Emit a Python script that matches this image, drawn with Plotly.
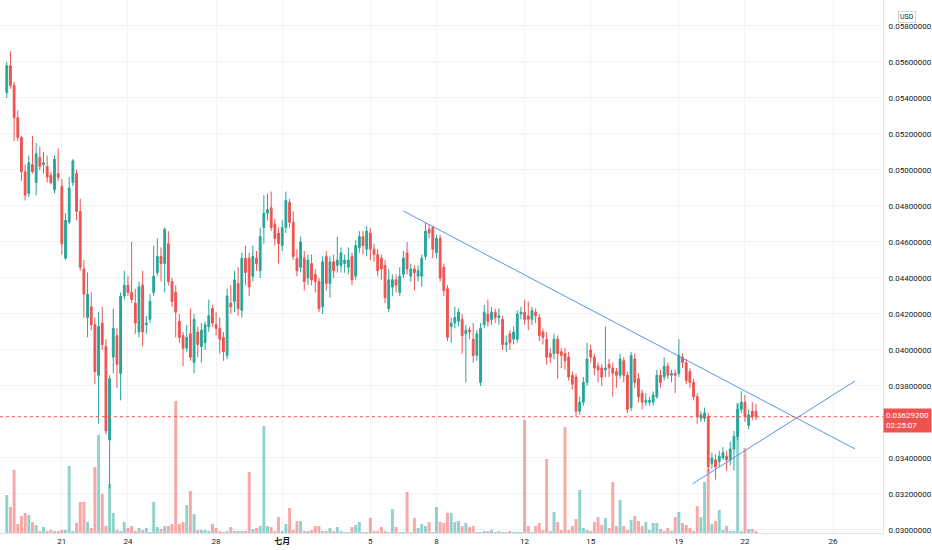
import pandas as pd
import plotly.graph_objects as go

# 4h candles, prices in thousandths of a USD (54.3 -> 0.0543)
opens = [
    54.3, 55.8, 54.7, 52.9, 51.8, 49.9, 48.7, 50.3, 49.3, 50.7,
    50.3, 50.2, 49.7, 48.9, 49.8, 49.1, 45.1, 47.1, 49.3, 49.8,
    47.7, 44.5, 41.8, 42.4, 41.4, 38.6, 41.5, 40.2, 35.0, 39.6,
    40.8, 38.7, 43.0, 43.6, 43.2, 42.6, 41.0, 43.6, 41.4, 41.7,
    43.2, 44.3, 45.2, 44.8, 45.9, 43.8, 43.2, 41.6, 40.8, 40.1,
    40.9, 39.3, 41.0, 40.2, 40.4, 41.3, 42.3, 41.4, 41.2, 40.7,
    39.7, 42.6, 42.7, 43.7, 42.2, 45.1, 45.1, 44.1, 45.1, 44.4,
    46.8, 47.6, 47.9, 47.0, 46.5, 45.8, 46.8, 48.2, 47.1, 45.1,
    44.6, 45.1, 44.0, 44.8, 44.2, 43.8, 42.4, 45.2, 43.7, 44.9,
    44.7, 44.7, 44.8, 44.6, 45.2, 44.1, 45.7, 46.3, 45.6, 46.5,
    45.6, 45.3, 45.1, 44.7, 42.3, 43.5, 43.9, 43.2, 44.2, 45.4,
    44.1, 44.5, 44.1, 44.1, 45.2, 46.7, 46.8, 45.4, 46.2, 44.6,
    43.4, 41.3, 41.5, 41.6, 41.7, 40.9, 41.1, 40.6, 39.7, 38.2,
    41.4, 42.0, 41.7, 42.1, 41.8, 41.7, 40.3, 40.9, 40.6, 40.6,
    42.0, 42.1, 41.9, 41.7, 42.1, 41.8, 41.0, 40.6, 39.8, 39.8,
    40.6, 39.9, 39.8, 39.6, 38.6, 38.5, 36.6, 37.1, 38.2, 40.0,
    39.6, 39.1, 39.0, 38.9, 39.2, 39.0, 38.8, 38.6, 39.4, 38.6,
    36.8, 39.5, 38.4, 37.6, 37.1, 37.1, 37.1, 37.4, 38.6, 38.5,
    39.1, 38.6, 38.7, 38.7, 39.6, 39.3, 38.8, 38.2, 37.4, 36.2,
    36.2, 36.3, 33.7, 33.9, 33.8, 34.0, 34.1, 33.9, 34.5, 35.2,
    36.7, 37.1, 35.8, 36.6, 36.6,
]
highs = [
    56.0, 56.6, 54.9, 53.3, 51.9, 50.3, 50.8, 51.9, 51.5, 51.3,
    51.0, 50.8, 49.9, 50.8, 51.2, 49.5, 47.6, 49.6, 50.6, 50.0,
    48.4, 45.0, 44.3, 43.2, 41.8, 42.1, 42.4, 40.6, 38.6, 42.3,
    41.2, 43.2, 44.4, 44.1, 46.0, 43.4, 43.8, 44.4, 41.9, 43.1,
    45.8, 46.2, 45.7, 46.8, 46.6, 44.0, 43.6, 42.0, 41.0, 41.4,
    42.3, 42.0, 41.3, 41.5, 41.6, 42.8, 42.5, 42.1, 41.8, 41.0,
    43.4, 43.6, 44.4, 44.6, 45.4, 45.8, 45.4, 45.8, 45.5, 46.8,
    48.6, 48.7, 48.8, 47.3, 46.8, 47.2, 48.8, 48.4, 47.7, 45.6,
    46.3, 45.5, 45.3, 45.3, 44.5, 44.0, 45.2, 45.5, 45.2, 45.3,
    46.3, 45.7, 45.3, 45.7, 45.4, 46.1, 46.6, 46.6, 46.9, 46.8,
    45.9, 45.6, 45.3, 45.0, 44.5, 44.2, 44.2, 44.6, 45.5, 46.0,
    44.8, 44.7, 44.7, 45.3, 47.1, 47.0, 46.9, 46.4, 46.4, 44.8,
    43.6, 41.8, 42.4, 42.3, 42.0, 41.4, 41.3, 41.5, 41.1, 41.5,
    42.5, 42.8, 42.4, 42.3, 42.3, 41.9, 40.8, 41.1, 41.3, 42.2,
    42.4, 42.8, 42.7, 42.4, 42.3, 42.0, 41.2, 41.0, 40.1, 40.9,
    40.8, 40.1, 40.1, 39.9, 38.8, 38.7, 37.4, 38.5, 40.4, 40.3,
    39.8, 39.3, 39.2, 41.3, 39.5, 39.3, 39.0, 39.8, 39.6, 38.8,
    39.9, 39.8, 38.7, 37.8, 37.6, 37.4, 37.7, 38.9, 38.9, 39.6,
    39.3, 38.9, 38.9, 40.6, 39.8, 39.5, 39.0, 38.4, 37.6, 36.6,
    36.8, 36.5, 34.3, 34.2, 34.4, 34.6, 34.4, 34.9, 35.5, 37.0,
    37.7, 37.5, 36.7, 37.1, 37.0,
]
lows = [
    54.0, 54.5, 51.6, 51.6, 49.4, 48.3, 48.5, 49.8, 48.6, 50.0,
    49.8, 49.3, 49.2, 48.7, 49.4, 45.3, 45.0, 47.0, 49.1, 47.2,
    44.4, 41.8, 40.7, 41.1, 38.1, 35.9, 40.0, 35.3, 32.3, 38.7,
    37.9, 37.2, 42.8, 43.0, 42.6, 40.9, 40.7, 40.2, 40.9, 41.5,
    43.0, 44.1, 43.8, 43.2, 43.6, 42.4, 40.7, 40.4, 39.1, 39.9,
    39.4, 38.7, 39.6, 39.3, 40.0, 41.0, 41.3, 40.8, 39.8, 39.4,
    39.5, 42.0, 42.1, 41.9, 41.8, 43.6, 43.0, 43.8, 44.4, 44.0,
    45.9, 47.2, 46.6, 45.8, 44.8, 45.5, 46.5, 46.8, 45.0, 44.1,
    44.3, 43.3, 43.6, 43.6, 43.2, 42.1, 42.0, 43.3, 42.9, 44.0,
    44.3, 44.3, 44.3, 44.2, 43.6, 43.9, 45.4, 45.3, 45.2, 45.0,
    44.9, 44.1, 43.9, 42.6, 42.1, 43.0, 43.2, 43.0, 44.0, 44.2,
    43.8, 43.3, 43.8, 43.5, 45.0, 46.2, 45.1, 45.1, 43.8, 43.0,
    40.5, 40.4, 41.2, 41.3, 39.8, 38.2, 40.6, 39.3, 39.4, 38.0,
    41.2, 41.3, 41.4, 41.5, 41.4, 40.0, 39.9, 40.0, 40.3, 40.4,
    41.7, 41.4, 41.1, 41.4, 41.5, 40.5, 40.3, 39.2, 39.3, 39.5,
    38.4, 39.0, 38.9, 38.3, 37.8, 36.3, 36.4, 36.9, 38.0, 39.3,
    38.6, 38.2, 38.0, 38.5, 38.5, 37.4, 37.9, 38.4, 38.2, 36.5,
    36.6, 37.9, 37.1, 36.7, 36.9, 36.9, 36.9, 37.3, 37.9, 38.3,
    38.4, 38.2, 37.6, 38.5, 39.0, 38.1, 37.9, 37.2, 35.9, 36.0,
    36.0, 33.2, 33.4, 32.8, 33.5, 33.9, 33.3, 33.6, 33.3, 35.0,
    36.5, 36.0, 35.6, 36.1, 36.1,
]
closes = [
    55.8, 54.7, 52.9, 51.8, 49.9, 48.6, 50.4, 49.9, 50.9, 50.2,
    50.4, 49.6, 49.3, 50.6, 49.6, 45.9, 47.2, 49.0, 50.5, 47.7,
    44.6, 43.1, 43.1, 41.4, 38.8, 41.3, 40.3, 35.5, 38.4, 41.2,
    39.2, 43.0, 43.6, 43.2, 42.8, 41.5, 43.5, 41.0, 41.5, 42.7,
    44.1, 45.2, 44.8, 46.7, 43.8, 42.7, 42.1, 40.7, 40.1, 40.7,
    39.6, 41.7, 40.3, 41.1, 41.4, 41.9, 41.5, 41.2, 40.6, 39.9,
    43.0, 42.4, 43.9, 42.3, 45.1, 44.3, 43.5, 45.2, 44.8, 46.3,
    47.6, 47.8, 46.8, 46.2, 45.9, 46.8, 48.3, 47.1, 45.2, 44.4,
    46.0, 43.8, 45.0, 43.9, 43.8, 42.3, 44.9, 43.7, 44.9, 44.4,
    45.0, 45.4, 45.0, 45.0, 43.9, 45.8, 46.3, 45.8, 46.6, 45.6,
    45.3, 44.4, 44.5, 42.9, 43.9, 43.9, 43.6, 44.1, 45.1, 44.5,
    44.5, 44.3, 44.4, 45.1, 46.6, 46.5, 45.6, 46.2, 44.0, 43.3,
    40.7, 41.5, 41.8, 42.1, 40.8, 41.1, 41.0, 39.7, 40.9, 41.2,
    42.1, 41.6, 42.1, 41.8, 41.9, 40.3, 40.4, 40.4, 41.0, 42.0,
    42.1, 41.7, 41.7, 42.2, 41.9, 40.8, 40.7, 39.6, 39.6, 40.6,
    39.8, 39.7, 39.4, 38.5, 38.1, 36.6, 37.1, 38.2, 39.5, 39.6,
    39.0, 38.9, 38.5, 39.0, 39.0, 38.7, 38.6, 39.5, 38.6, 36.7,
    39.7, 38.2, 37.4, 37.1, 37.2, 37.2, 37.5, 38.6, 38.2, 39.1,
    38.6, 38.7, 38.6, 39.7, 39.3, 38.3, 38.2, 37.4, 36.3, 36.4,
    36.5, 33.5, 34.0, 33.5, 34.1, 34.3, 33.9, 34.5, 35.2, 36.7,
    37.1, 36.3, 36.4, 36.3, 36.292,
]
# volume per candle (relative units)
volumes = [
    38, 26, 63, 9, 17, 20, 18, 11, 8, 2, 6, 2, 3, 2, 2, 3, 3, 67, 2, 10,
    31, 31, 11, 5, 66, 98, 39, 7, 49, 20, 3, 2, 11, 5, 7, 2, 5, 3, 5, 1,
    31, 6, 4, 7, 7, 9, 132, 9, 11, 28, 42, 19, 3, 3, 3, 2, 9, 5, 2, 1,
    2, 6, 2, 2, 2, 2, 61, 4, 5, 7, 107, 7, 6, 2, 16, 2,
    9, 25, 3, 12, 12, 2, 2, 3, 7, 7, 2, 2, 5, 2, 6, 2, 1, 1, 6, 8,
    11, 1, 1, 15, 2, 2, 6, 2, 1, 24, 6, 1, 1, 41, 1, 15, 5, 9, 7, 11,
    1, 26, 11, 10, 20, 20, 11, 12, 7,
    10, 6, 7, 1, 1,
    2, 2, 3, 1, 2, 1, 1, 2, 1, 1, 1, 113, 7, 1, 7, 10, 3, 74, 2, 21,
    11, 3, 106, 3, 7, 14, 43, 5, 3, 2, 11, 16, 8, 15, 5, 51, 7, 33, 7, 3,
    13, 17, 12, 7, 11, 3, 10, 10, 4, 2, 5, 2, 16, 21, 10, 8, 5, 2, 27, 16,
    51, 64, 9, 12, 23, 3, 7, 2, 2, 130, 2, 85, 4, 4, 2,
]
last_bar = "2021-07-22 12:00"
last_price = 0.036292
countdown = "02:25:07"

tick_dates = ["2021-06-21", "2021-06-24", "2021-06-28", "2021-07-01", "2021-07-05",
              "2021-07-08", "2021-07-12", "2021-07-15", "2021-07-19", "2021-07-22",
              "2021-07-26"]
tick_text = ["21", "24", "28", "<b>七月</b>", "5", "8", "12", "15", "19", "22", "26"]
# 0.036 label sits under the last-price tag, so it is not listed
price_ticks = [0.030, 0.032, 0.034, 0.038, 0.040, 0.042, 0.044,
               0.046, 0.048, 0.050, 0.052, 0.054, 0.056, 0.058]

# drawn trend lines (time, price)
upper_line = (("2021-07-06 11:58", 0.04772), ("2021-07-26 23:56", 0.03450))
lower_line = (("2021-07-19 14:47", 0.03256), ("2021-07-26 23:56", 0.03828))

UP = "#26a69a"
DOWN = "#ef5350"
GRID = "#f0f3fa"
FONT = "Roboto, Noto Sans CJK SC, sans-serif"

times = pd.date_range(end=last_bar, periods=len(closes), freq="4h")
o = [v / 1000 for v in opens]
h = [v / 1000 for v in highs]
l = [v / 1000 for v in lows]
c = [v / 1000 for v in closes]
vol_colors = ["rgba(38,166,154,0.5)" if cc >= oo else "rgba(239,83,80,0.5)"
              for oo, cc in zip(opens, closes)]

fig = go.Figure()
fig.add_trace(go.Bar(x=times, y=volumes, marker=dict(color=vol_colors, line_width=0),
                     yaxis="y", hoverinfo="skip", showlegend=False))
fig.add_trace(go.Candlestick(
    x=times, open=o, high=h, low=l, close=c, yaxis="y2",
    increasing=dict(line=dict(color=UP, width=1), fillcolor=UP),
    decreasing=dict(line=dict(color=DOWN, width=1), fillcolor=DOWN),
    whiskerwidth=0, hoverinfo="skip", showlegend=False,
))

line_color = "#5b93e8"
shapes = []
for (x0, y0), (x1, y1) in (upper_line, lower_line):
    shapes.append(dict(type="line", xref="x", yref="y2", x0=x0, y0=y0, x1=x1, y1=y1,
                       line=dict(color=line_color, width=1)))
shapes.append(dict(type="line", xref="paper", yref="y2", x0=0, x1=1,
                   y0=last_price, y1=last_price,
                   line=dict(color=DOWN, width=1, dash="dot")))

fig.update_layout(
    width=932, height=550,
    margin=dict(l=0, r=47, t=0, b=17),
    paper_bgcolor="white", plot_bgcolor="white",
    font=dict(family=FONT, size=8, color="#131722"),
    bargap=0.2,
    xaxis=dict(
        type="date", range=["2021-06-18 04:38", "2021-07-28 06:20"],
        tickvals=tick_dates, ticktext=tick_text, ticks="",
        showgrid=True, gridcolor=GRID, zeroline=False,
        showline=True, linecolor="#e0e3eb", rangeslider=dict(visible=False),
        tickfont=dict(size=8, color="#131722"),
    ),
    yaxis=dict(range=[0, 533], visible=False, showgrid=False, fixedrange=True),
    yaxis2=dict(
        overlaying="y", side="right", range=[0.029833, 0.059444],
        tickvals=price_ticks, tickformat=".8f", ticks="",
        showgrid=True, gridcolor=GRID, zeroline=False,
        showline=True, linecolor="#e0e3eb", ticklabelstandoff=3,
        tickfont=dict(size=8, color="#131722"),
    ),
    shapes=shapes,
    annotations=[
        dict(xref="paper", yref="y2", x=1, y=last_price, xanchor="left", yanchor="middle",
             yshift=-4, xshift=0, text=f"{last_price:.8f}<br>{countdown}", showarrow=False,
             align="left", bgcolor=DOWN, borderpad=2,
             font=dict(family=FONT, size=8, color="white")),
        dict(xref="paper", yref="paper", x=1.027, y=0.980, xanchor="center",
             text="USD", showarrow=False,
             bordercolor="#d1d4dc", borderwidth=1, borderpad=1, bgcolor="white",
             font=dict(family=FONT, size=7, color="#131722")),
    ],
)

# the page body would otherwise add an 8px margin around the chart
fig.write_html("out.html", config={"displayModeBar": False},
               post_script="document.body.style.margin='0';")
